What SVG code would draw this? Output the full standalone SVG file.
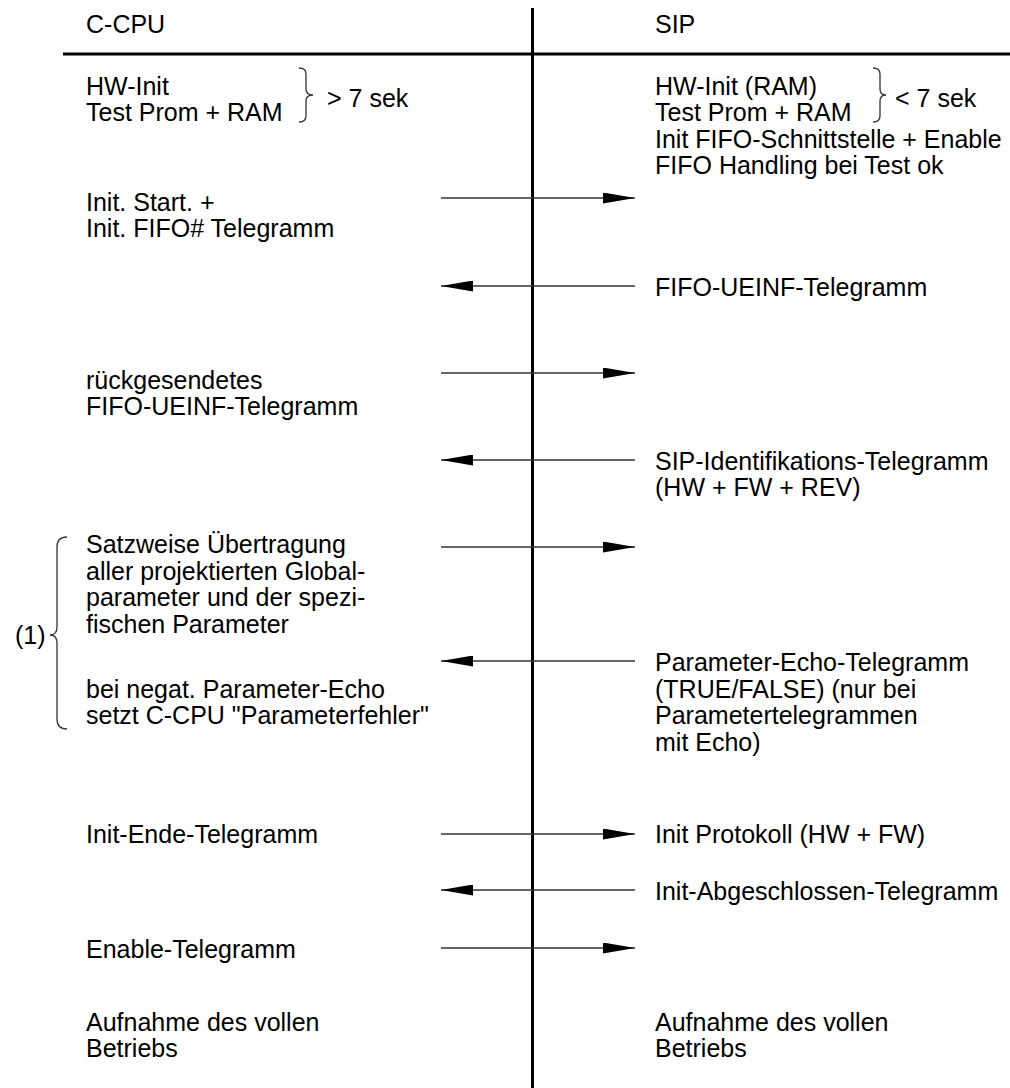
<svg xmlns="http://www.w3.org/2000/svg" width="1010" height="1088" viewBox="0 0 1010 1088">
<style>
text{font-family:"Liberation Sans",Arial,sans-serif;font-size:25px;fill:#000}
.msg{stroke:#333;stroke-width:1.3;fill:none}
.brace{stroke:#333;stroke-width:1.3;fill:none}
</style>
<defs>
<marker id="ah" viewBox="0 0 32 11" refX="32" refY="5.5" markerWidth="32" markerHeight="11" markerUnits="userSpaceOnUse" orient="auto">
<path d="M0,0 L32,5.5 L0,11 Z" fill="#000"/>
</marker>
</defs>
<rect width="1010" height="1088" fill="#fff"/>
<g id="lifelines">
<line x1="532.5" y1="8" x2="532.5" y2="1088" stroke="#000" stroke-width="3"/>
<line x1="63" y1="54" x2="1010" y2="54" stroke="#000" stroke-width="3"/>
</g>
<g id="ccpu">
<text x="86" y="33">C-CPU</text>
<text x="86" y="95">HW-Init</text>
<text x="86" y="121">Test Prom + RAM</text>
<path class="brace" d="M299,68 Q306,68 306,74 L306,89 Q306,95 313,95 Q306,95 306,101 L306,116 Q306,122 299,122"/>
<text x="327" y="107">&gt; 7 sek</text>
<text x="86" y="211">Init. Start. +</text>
<text x="86" y="237">Init. FIFO# Telegramm</text>
<text x="86" y="389">rückgesendetes</text>
<text x="86" y="415">FIFO-UEINF-Telegramm</text>
<text x="86" y="553">Satzweise Übertragung</text>
<text x="86" y="579.5">aller projektierten Global-</text>
<text x="86" y="606">parameter und der spezi-</text>
<text x="86" y="632.5">fischen Parameter</text>
<text x="86" y="697.5">bei negat. Parameter-Echo</text>
<text x="86" y="724">setzt C-CPU "Parameterfehler"</text>
<text x="15" y="644">(1)</text>
<path class="brace" d="M67,537 Q57,537 57,547 L57,627 Q57,635 50,635 Q57,635 57,643 L57,719 Q57,729 67,729"/>
<text x="86" y="843">Init-Ende-Telegramm</text>
<text x="86" y="958">Enable-Telegramm</text>
<text x="86" y="1031">Aufnahme des vollen</text>
<text x="86" y="1057">Betriebs</text>
</g>
<g id="sip">
<text x="655" y="33">SIP</text>
<text x="655" y="95">HW-Init (RAM)</text>
<text x="655" y="121">Test Prom + RAM</text>
<path class="brace" d="M873,68 Q880,68 880,74 L880,89 Q880,95 886,95 Q880,95 880,101 L880,116 Q880,122 873,122"/>
<text x="895" y="107">&lt; 7 sek</text>
<text x="655" y="147.5">Init FIFO-Schnittstelle + Enable</text>
<text x="655" y="173.5">FIFO Handling bei Test ok</text>
<text x="655" y="296">FIFO-UEINF-Telegramm</text>
<text x="655" y="469.5">SIP-Identifikations-Telegramm</text>
<text x="655" y="496">(HW + FW + REV)</text>
<text x="655" y="671">Parameter-Echo-Telegramm</text>
<text x="655" y="697.5">(TRUE/FALSE) (nur bei</text>
<text x="655" y="724">Parametertelegrammen</text>
<text x="655" y="750.5">mit Echo)</text>
<text x="655" y="843">Init Protokoll (HW + FW)</text>
<text x="655" y="900">Init-Abgeschlossen-Telegramm</text>
<text x="655" y="1031">Aufnahme des vollen</text>
<text x="655" y="1057">Betriebs</text>
</g>
<g id="connectors">
<line class="msg" x1="441" y1="198" x2="635" y2="198" marker-end="url(#ah)"/>
<line class="msg" x1="635" y1="286" x2="441" y2="286" marker-end="url(#ah)"/>
<line class="msg" x1="441" y1="373" x2="635" y2="373" marker-end="url(#ah)"/>
<line class="msg" x1="635" y1="460" x2="441" y2="460" marker-end="url(#ah)"/>
<line class="msg" x1="441" y1="547" x2="635" y2="547" marker-end="url(#ah)"/>
<line class="msg" x1="635" y1="661" x2="441" y2="661" marker-end="url(#ah)"/>
<line class="msg" x1="441" y1="834" x2="635" y2="834" marker-end="url(#ah)"/>
<line class="msg" x1="635" y1="890" x2="441" y2="890" marker-end="url(#ah)"/>
<line class="msg" x1="441" y1="948" x2="635" y2="948" marker-end="url(#ah)"/>
</g>
</svg>
